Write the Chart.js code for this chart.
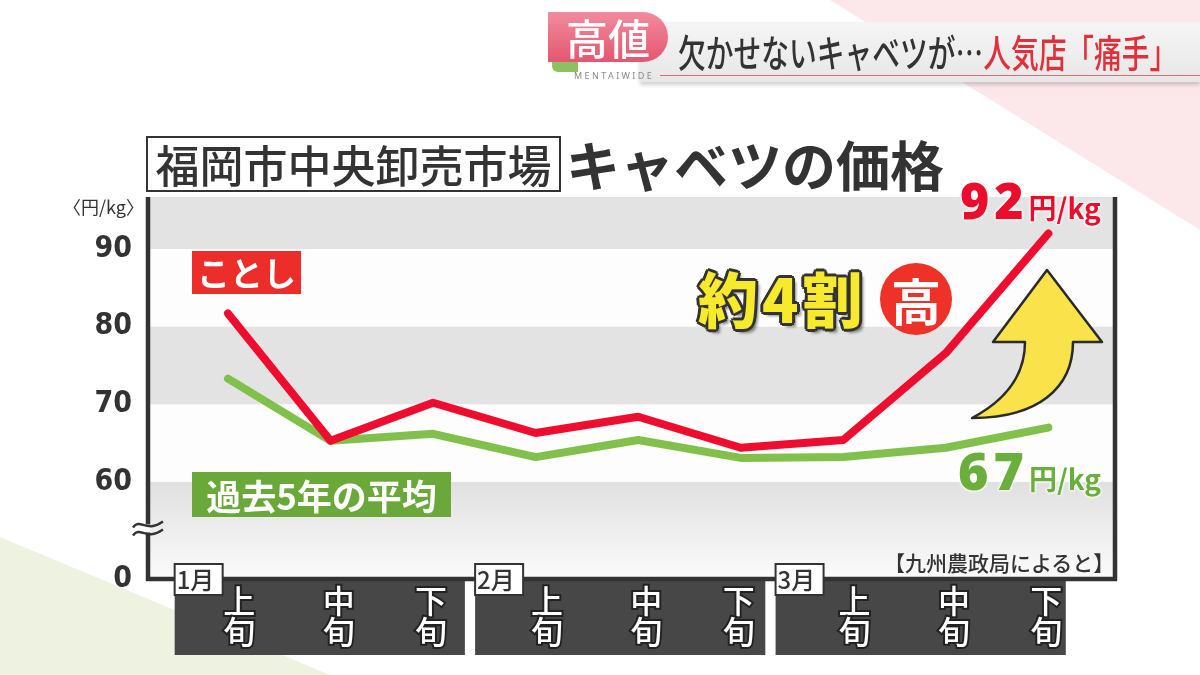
<!DOCTYPE html>
<html lang="ja">
<head>
<meta charset="utf-8">
<script src="https://cdn.jsdelivr.net/npm/chart.js@4"></script>
<style>
  html, body { margin: 0; padding: 0; }
  body { width: 1200px; height: 675px; position: relative; overflow: hidden; background: #fff;
         font-family: "Noto Sans CJK JP", "Noto Sans", sans-serif; color: #333; }
  .bg-pink { position: absolute; left: 0; top: 0; width: 1200px; height: 675px; background: #fce8eb;
             clip-path: polygon(830px 0, 1200px 0, 1200px 230px); }
  .bg-green { position: absolute; left: 0; top: 0; width: 1200px; height: 675px; background: #eef2e1;
              clip-path: polygon(0 537px, 0 675px, 330px 675px); }
  #c { position: absolute; left: 0; top: 0; }
  .abs { position: absolute; white-space: nowrap; }
  .bar { left: 640px; top: 22px; width: 560px; height: 60px; background: linear-gradient(#f5f5f5, #e7e7e7);
         box-shadow: 0 3px 4px rgba(0,0,0,.18); }
  .tab { left: 552px; top: 56px; width: 26px; height: 16px; background: #8cc060; border-radius: 0 0 0 6px; }
  .badge { left: 548px; top: 12px; width: 120px; height: 50px; border-radius: 0 25px 25px 0;
           background: linear-gradient(#f28b9d, #e4566f); color: #fff; font-size: 42px; font-weight: 500;
           line-height: 50px; text-align: center; }
  .headline { left: 678px; top: 24px; font-size: 38px; font-weight: 500; line-height: 54px; color: #333;
              transform: scaleX(0.73); transform-origin: left center; }
  .headline span { color: #e0303a; }
  .brand { left: 574px; top: 69px; font-size: 9px; letter-spacing: 2.4px; color: #888; font-family: "Noto Sans", sans-serif; }
  .brand-line { left: 660px; top: 75px; width: 540px; height: 1px; background: #e06a78; }
  .title-box { left: 146px; top: 136px; width: 411px; height: 52px; border: 2px solid #333; background: #fff;
               font-size: 44px; font-weight: 500; line-height: 52px; text-align: center; }
  .title { left: 566px; top: 132px; font-size: 54px; font-weight: 700; line-height: 64px; }
  .unit { left: 63px; top: 195px; font-size: 18px; line-height: 22px; }
  .tag-red { left: 192px; top: 251px; width: 109px; height: 43px; background: #ec2d2a; color: #fff;
             font-size: 33px; font-weight: 700; line-height: 43px; text-align: center; }
  .tag-green { left: 192px; top: 472px; width: 259px; height: 45px; background: #6aa83a; color: #fff;
               font-size: 35px; font-weight: 700; line-height: 45px; text-align: center; }
  .val { font-weight: 700; text-shadow: 0 0 3px #fff, 0 0 3px #fff, 0 0 3px #fff; }
  .val b { font-family: "Noto Sans", sans-serif; letter-spacing: 5px; }
  .val small { font-size: 28px; }
  .v92 { left: 960px; top: 166px; color: #ec0c2c; font-size: 50px; line-height: 62px; }
  .v67 { left: 958px; top: 436px; color: #6aae3c; font-size: 52px; line-height: 64px; }
  .rise { left: 698px; top: 256px; font-size: 60px; font-weight: 900; line-height: 82px; color: #f7e92c;
          letter-spacing: 4px;
          text-shadow: -2px -2px 0 #333, 2px -2px 0 #333, -2px 2px 0 #333, 2px 2px 0 #333,
                       0 3px 0 #333, 3px 0 0 #333, -3px 0 0 #333, 0 -3px 0 #333, 4px 4px 3px rgba(0,0,0,.45); }
  .circle { left: 880px; top: 263px; width: 72px; height: 72px; border-radius: 50%; background: #ee3228;
            color: #fff; font-size: 50px; font-weight: 700; line-height: 72px; text-align: center; }
  .source { left: 884px; top: 548px; font-size: 21px; font-weight: 500; line-height: 28px; color: #333; }
  svg.arrow { position: absolute; left: 0; top: 0; }
</style>
</head>
<body>
<div class="bg-pink"></div>
<div class="bg-green"></div>
<canvas id="c" width="1200" height="675"></canvas>

<div class="abs bar"></div>
<div class="abs tab"></div>
<div class="abs badge">高値</div>
<div class="abs headline">欠かせないキャベツが…<span>人気店「痛手」</span></div>
<div class="abs brand">MENTAIWIDE</div>
<div class="abs brand-line"></div>

<div class="abs title-box">福岡市中央卸売市場</div>
<div class="abs title">キャベツの価格</div>
<div class="abs unit">〈円/kg〉</div>

<div class="abs tag-red">ことし</div>
<div class="abs tag-green">過去5年の平均</div>
<div class="abs val v92"><b>92</b><small>円/kg</small></div>
<div class="abs val v67"><b>67</b><small>円/kg</small></div>
<div class="abs rise">約4割</div>
<div class="abs circle">高</div>
<svg class="arrow" width="1200" height="675">
  <path d="M1047,270 L1102,342 L1073,342 C1073,388 1038,418 972,418 C1006,400 1025,376 1025,342 L993,342 Z"
        fill="#fae24a" stroke="#2a2a2a" stroke-width="2.5" stroke-linejoin="round"/>
</svg>
<div class="abs source">【九州農政局によると】</div>

<script>
// 旬ごとの価格（円/kg）
const months = ['1月', '2月', '3月'];
const periods = ['上旬', '中旬', '下旬', '上旬', '中旬', '下旬', '上旬', '中旬', '下旬'];
const thisYear = [81.7, 65.3, 70.2, 66.3, 68.4, 64.4, 65.4, 76.6, 92];
const avg5yr = [73.3, 65.3, 66.2, 63.2, 65.4, 63.1, 63.2, 64.4, 67];

// 縦軸（60未満は省略、いちばん下を0と表示）
const yTicks = [47.5, 60, 70, 80, 90];
const yTickLabels = ['0', '60', '70', '80', '90'];
const yMin = 47.5, yMax = 96.7;
const xMin = -0.78, xMax = 8.65;

const jp = '"Noto Sans CJK JP", "Noto Sans", sans-serif';

const backdrop = {
  id: 'backdrop',
  beforeDraw(chart) {
    const { ctx, chartArea: a, scales: { x, y } } = chart;
    ctx.save();
    ctx.fillStyle = '#fdfdfd';
    ctx.fillRect(a.left, a.top, a.width, a.height);

    // 灰色のしま
    ctx.fillStyle = '#e3e3e3';
    [[90, yMax], [70, 80]].forEach(([lo, hi]) => {
      const t = y.getPixelForValue(hi), b = y.getPixelForValue(lo);
      ctx.fillRect(a.left, t, a.width, b - t);
    });
    const g60 = y.getPixelForValue(60);
    const grad = ctx.createLinearGradient(0, g60, 0, a.bottom);
    grad.addColorStop(0, '#e0e0e0');
    grad.addColorStop(1, '#fbfbfb');
    ctx.fillStyle = grad;
    ctx.fillRect(a.left, g60, a.width, a.bottom - g60);

    // 月ごとの黒い帯
    const from = [-0.52, 2.41, 5.34], to = [2.31, 5.24, 8.17];
    ctx.fillStyle = '#474747';
    months.forEach((m, k) => {
      const l = x.getPixelForValue(from[k]), r = x.getPixelForValue(to[k]);
      ctx.fillRect(l, a.bottom + 2, r - l, 655 - a.bottom - 2);
    });

    // 軸線
    ctx.strokeStyle = '#333';
    ctx.lineWidth = 4.5;
    ctx.beginPath();
    ctx.moveTo(a.left, a.top);
    ctx.lineTo(a.left, a.bottom);
    ctx.lineTo(a.right, a.bottom);
    ctx.lineTo(a.right, a.top);
    ctx.stroke();

    // 月の見出し
    ctx.font = '500 24px ' + jp;
    ctx.textBaseline = 'middle';
    ctx.textAlign = 'left';
    months.forEach((m, k) => {
      const l = x.getPixelForValue(from[k]);
      ctx.fillStyle = '#fff';
      ctx.fillRect(l, a.bottom - 15, 48, 31);
      ctx.lineWidth = 2;
      ctx.strokeRect(l, a.bottom - 15, 48, 31);
      ctx.fillStyle = '#333';
      ctx.fillText(m, l + 2, a.bottom + 1);
    });

    // 省略記号
    const by = (y.getPixelForValue(60) + a.bottom) / 2 - 2;
    ctx.fillStyle = '#fff';
    ctx.fillRect(a.left - 3, by - 4, 6, 8);
    ctx.strokeStyle = '#333';
    ctx.lineWidth = 2.5;
    [-4, 4].forEach(d => {
      ctx.beginPath();
      ctx.moveTo(a.left - 15, by + d + 3);
      ctx.bezierCurveTo(a.left - 8, by + d - 7, a.left - 2, by + d + 9, a.left + 15, by + d - 3);
      ctx.stroke();
    });
    ctx.restore();
  }
};

// 旬ラベルは帯の中で少しずらして並べる
const labelShift = [0.11, 0.08, -0.02];

const ctx = document.getElementById('c').getContext('2d');
new Chart(ctx, {
  type: 'line',
  data: {
    datasets: [
      { label: 'ことし', data: thisYear.map((v, i) => ({ x: i, y: v })),
        borderColor: '#ee0d2f', borderWidth: 8, pointRadius: 0, tension: 0,
        borderCapStyle: 'round', borderJoinStyle: 'round' },
      { label: '過去5年の平均', data: avg5yr.map((v, i) => ({ x: i, y: v })),
        borderColor: '#80c04b', borderWidth: 8, pointRadius: 0, tension: 0,
        borderCapStyle: 'round', borderJoinStyle: 'round' }
    ]
  },
  options: {
    responsive: false,
    animation: false,
    layout: { padding: { top: 197, right: 85, left: 0, bottom: 0 } },
    plugins: { legend: { display: false }, tooltip: { enabled: false } },
    scales: {
      x: {
        type: 'linear', min: xMin, max: xMax,
        grid: { display: false, drawTicks: false }, border: { display: false },
        afterBuildTicks: s => { s.ticks = periods.map((p, i) => ({ value: i + labelShift[i % 3] })); },
        afterFit: s => { s.height = 96; },
        ticks: {
          autoSkip: false, maxRotation: 0, padding: 6,
          color: '#fff', textStrokeColor: '#222', textStrokeWidth: 4,
          font: { family: jp, size: 32, weight: '500', lineHeight: 0.98 },
          callback: (v, i) => periods[i] ? periods[i].split('') : ''
        }
      },
      y: {
        min: yMin, max: yMax,
        grid: { display: false, drawTicks: false }, border: { display: false },
        afterBuildTicks: s => { s.ticks = yTicks.map(v => ({ value: v })); },
        afterFit: s => { s.width = 148; },
        ticks: {
          padding: 16, color: '#333',
          font: { family: '"Liberation Sans Narrow", "DejaVu Sans Condensed", "Roboto Condensed", "Roboto", sans-serif', size: 30, weight: 'bold' },
          callback: v => yTickLabels[yTicks.indexOf(v)]
        }
      }
    }
  },
  plugins: [backdrop]
});
</script>
</body>
</html>
